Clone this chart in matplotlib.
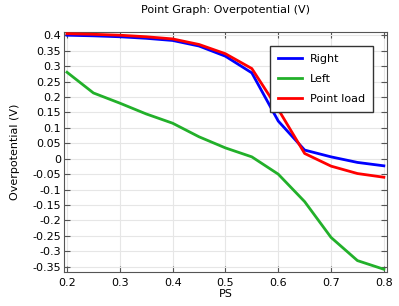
import matplotlib
matplotlib.use("Agg")
import matplotlib.pyplot as plt

ps = [0.2, 0.25, 0.3, 0.35, 0.4, 0.45, 0.5, 0.55, 0.6, 0.65, 0.7, 0.75, 0.8]
right = [0.400, 0.398, 0.395, 0.390, 0.383, 0.365, 0.332, 0.278, 0.122, 0.028, 0.006, -0.012, -0.023]
left = [0.280, 0.213, 0.180, 0.145, 0.115, 0.071, 0.035, 0.006, -0.050, -0.139, -0.255, -0.330, -0.358]
point_load = [0.405, 0.403, 0.400, 0.395, 0.388, 0.370, 0.340, 0.292, 0.160, 0.017, -0.024, -0.048, -0.060]

yticks = [0.4, 0.35, 0.3, 0.25, 0.2, 0.15, 0.1, 0.05, 0, -0.05, -0.1, -0.15, -0.2, -0.25, -0.3, -0.35]
ytick_labels = ["0.4", "0.35", "0.3", "0.25", "0.2", "0.15", "0.1", "0.05", "0",
                "-0.05", "-0.1", "-0.15", "-0.2", "-0.25", "-0.3", "-0.35"]
xticks = [0.2, 0.3, 0.4, 0.5, 0.6, 0.7, 0.8]
xtick_labels = ["0.2", "0.3", "0.4", "0.5", "0.6", "0.7", "0.8"]

plt.rcParams['font.family'] = ['DejaVu Sans']
fig = plt.figure(figsize=(3.99, 3.06), dpi=100)
ax = fig.add_axes([0.160, 0.111, 0.810, 0.784])

ax.plot(ps, right, color="#0000ff", lw=2, label="Right", zorder=3)
ax.plot(ps, left, color="#22b02a", lw=2, label="Left", zorder=3)
ax.plot(ps, point_load, color="#ff0000", lw=2, label="Point load", zorder=4)
ax.set_xlim(0.194, 0.806)
ax.set_ylim(-0.367, 0.41)
ax.set_xticks(xticks)
ax.set_xticklabels(xtick_labels)
ax.set_yticks(yticks)
ax.set_yticklabels(ytick_labels)
ax.tick_params(direction="in", top=True, right=True, labelsize=8, length=4,
               color="#555555", pad=2)
ax.tick_params(axis="x", pad=4)
ax.grid(True, color="#e6e6e6", lw=0.8)
for s in ax.spines.values():
    s.set_color("#555555")
ax.set_title("Point Graph: Overpotential (V)", fontsize=8, pad=14)
ax.set_xlabel("PS", fontsize=8, labelpad=1)
ax.set_ylabel("Overpotential (V)", fontsize=8, labelpad=9)
leg = ax.legend(loc="upper right", bbox_to_anchor=(0.957, 0.942), borderaxespad=0,
                fontsize=8, fancybox=False, framealpha=1, edgecolor="#333333",
                handlelength=2.2, handletextpad=0.7, borderpad=0.7, labelspacing=0.9)
leg.get_frame().set_linewidth(1)
fig.savefig("out.png", dpi=100)
